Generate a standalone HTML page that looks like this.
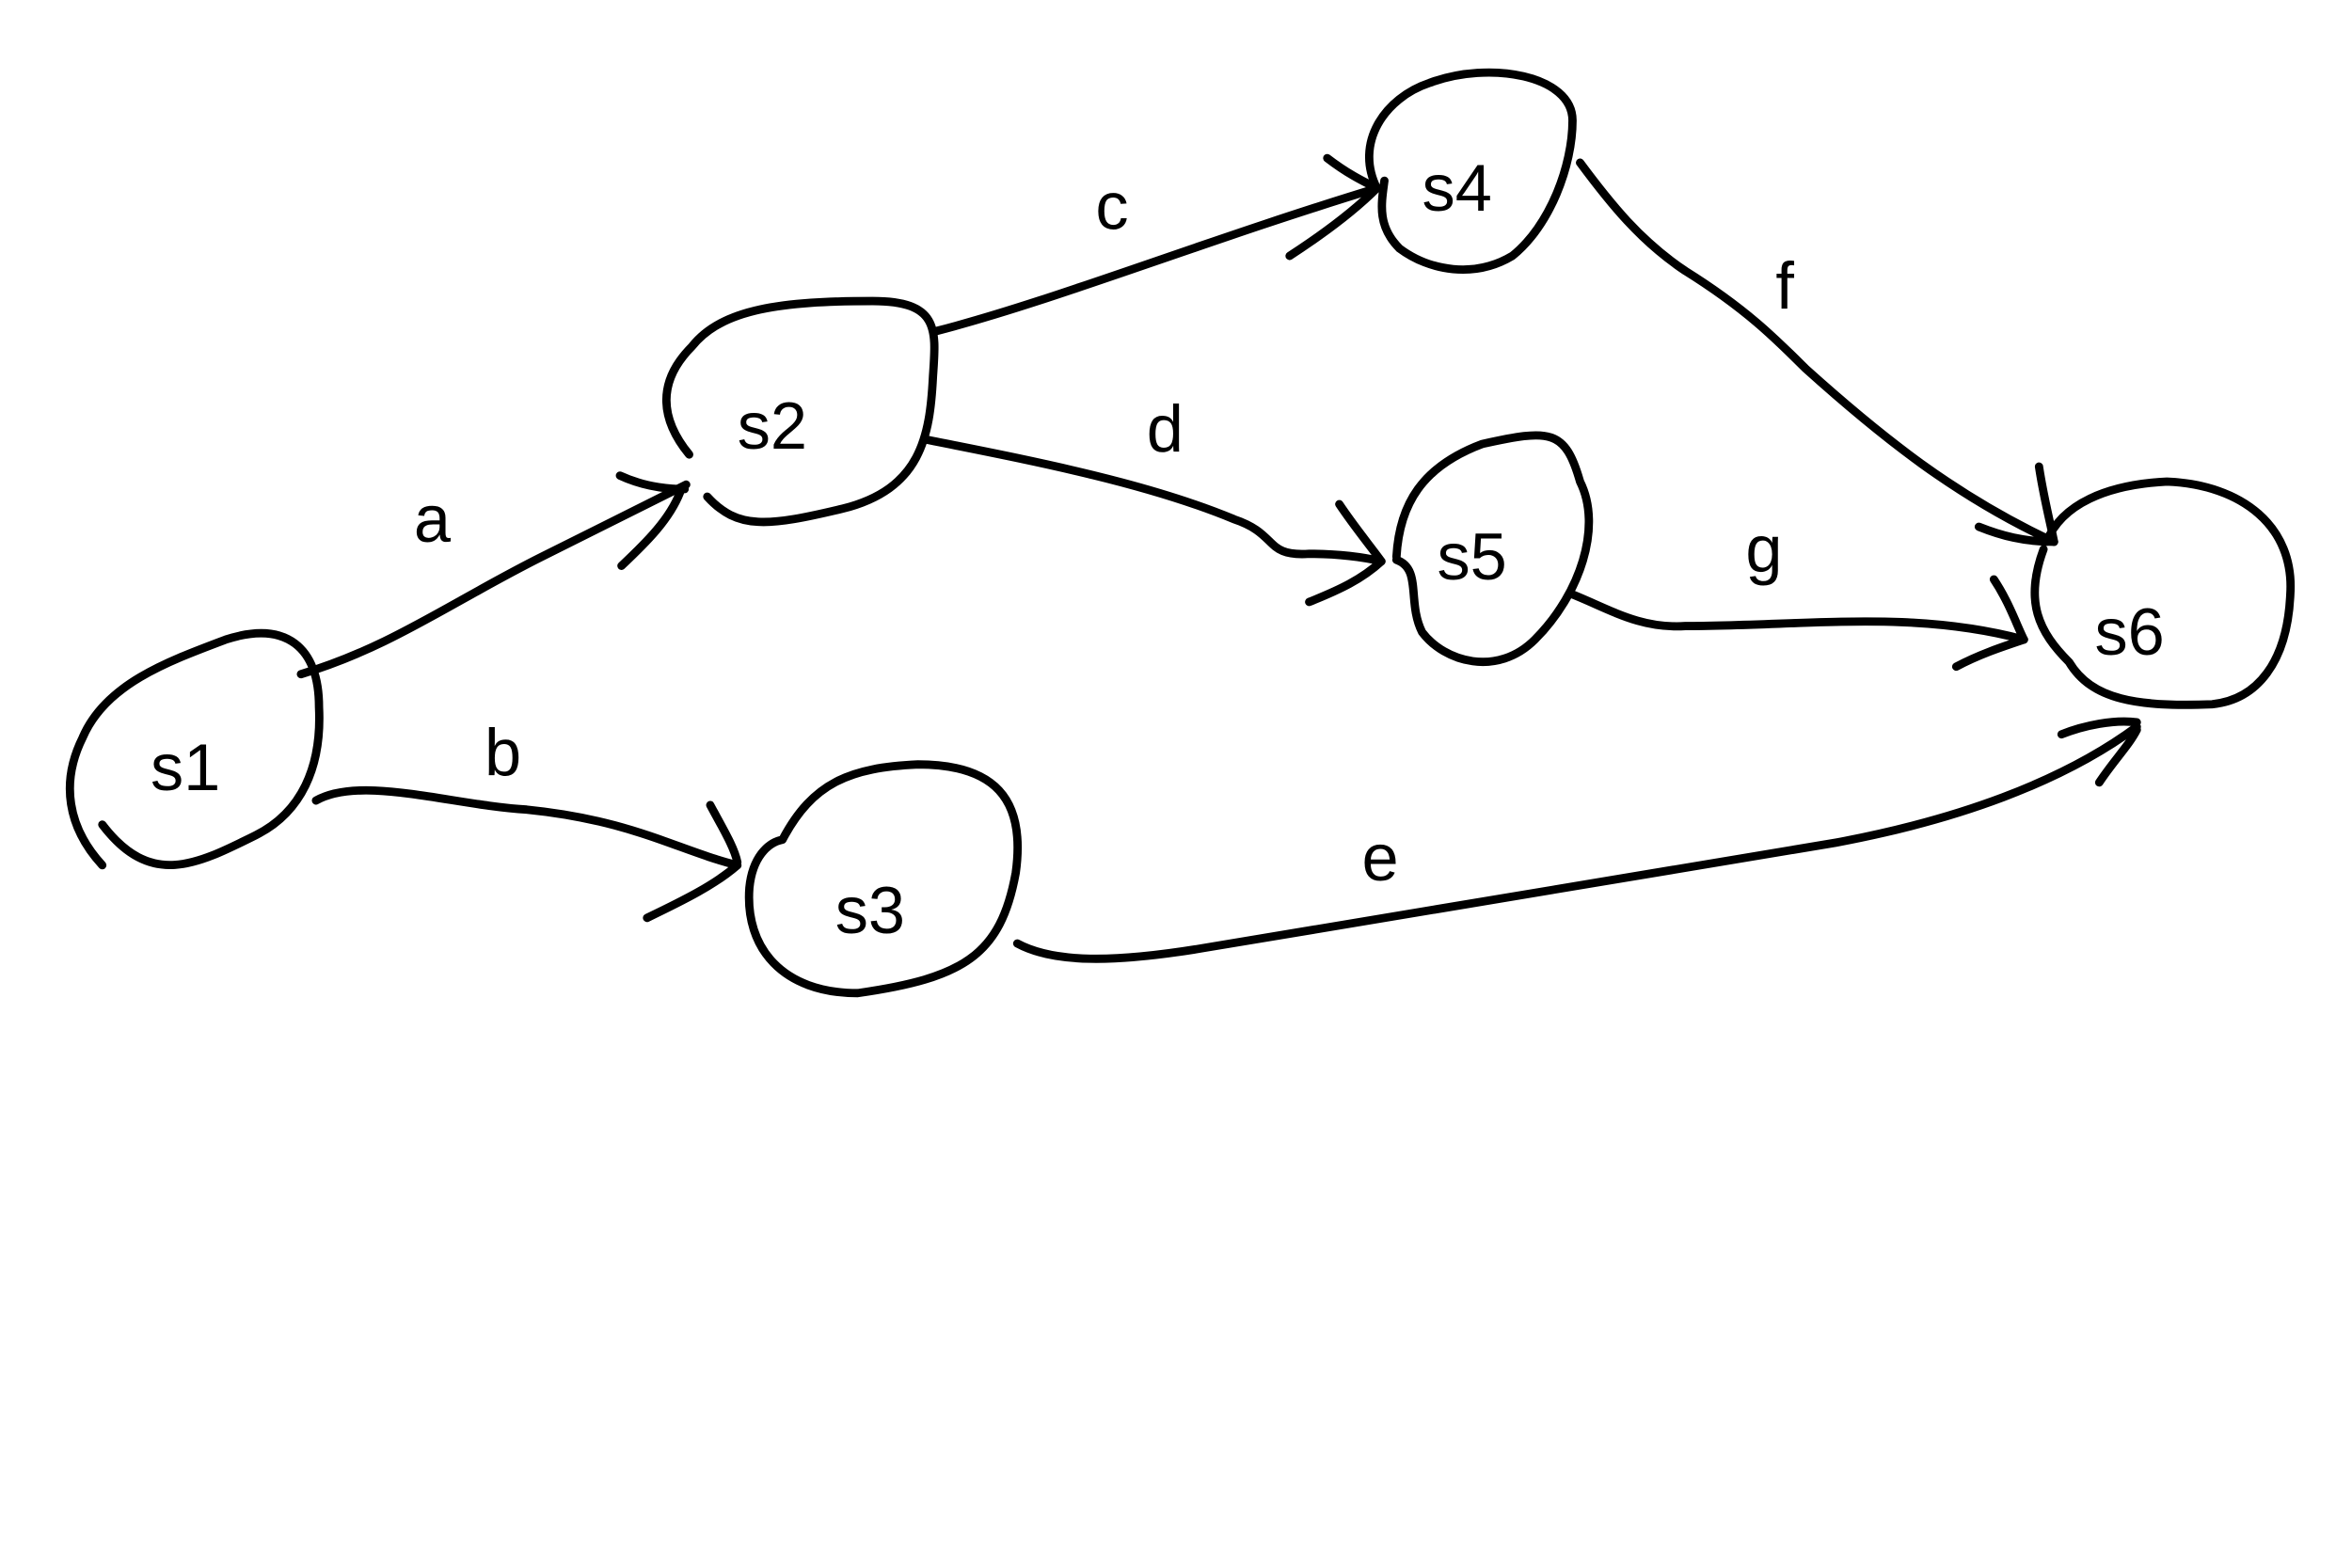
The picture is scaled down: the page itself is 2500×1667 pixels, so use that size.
<!DOCTYPE html>
<html><head><meta charset="utf-8"><style>
html,body{margin:0;padding:0;background:#fff;}
svg{display:block;}
text{font-family:"Liberation Sans",sans-serif;fill:#000;}
</style></head><body>
<svg width="2500" height="1667" viewBox="0 0 1563 1042" xmlns="http://www.w3.org/2000/svg">
<rect width="1563" height="1042" fill="#fff"/>
<g fill="none" stroke="#000" stroke-width="5.5" stroke-linecap="round" stroke-linejoin="round">
<path d="M68,575 C45,550 40,520 55,490 C70,455 110,440 150,425 C190,412 212,430 212,470 C214,510 200,540 170,555 C130,575 100,590 68,548"/>
<path d="M458,302 C440,280 435,255 460,230 C480,205 520,200 580,200 C625,200 622,220 620,250 C618,290 612,325 560,338 C510,350 490,352 470,330"/>
<path d="M520,558 C540,520 565,510 610,508 C660,508 682,530 675,580 C665,635 640,650 570,660 C520,660 495,630 498,590 C500,570 510,560 520,558"/>
<path d="M915,125 C900,95 920,65 950,55 C990,40 1045,50 1045,80 C1045,110 1030,150 1005,170 C980,185 950,180 930,165 C915,150 918,135 920,120"/>
<path d="M928,370 C930,335 945,310 985,295 C1030,285 1040,285 1050,320 C1065,350 1050,395 1020,425 C995,450 960,440 945,420 C935,400 945,378 928,372"/>
<path d="M1360,360 C1370,335 1400,322 1440,320 C1490,322 1525,350 1522,395 C1520,440 1500,465 1470,468 C1420,470 1390,465 1375,440 C1355,420 1345,400 1358,365"/>
<path d="M200,448 C260,430 300,400 360,370 C400,350 430,335 456,322"/>
<path d="M412,316 C425,322 440,325 455,325 M413,376 C430,360 445,345 452,327"/>
<path d="M210,532 C240,515 300,535 350,538 C420,545 450,565 490,575"/>
<path d="M472,535 C480,550 488,563 490,573 M430,610 C455,598 475,588 490,575"/>
<path d="M622,220 C700,200 800,160 915,125"/>
<path d="M882,105 C895,115 905,120 915,125 M857,170 C880,155 900,140 915,125"/>
<path d="M615,292 C680,305 760,320 820,345 C850,355 840,370 870,368 C890,368 905,370 918,373"/>
<path d="M890,335 C900,350 910,362 918,373 M870,400 C890,392 905,385 918,373"/>
<path d="M676,627 C700,640 740,640 800,630 C950,605 1100,580 1220,560 C1300,545 1370,520 1420,483"/>
<path d="M1370,488 C1385,482 1405,478 1420,480 M1395,520 C1405,505 1415,495 1420,485"/>
<path d="M1050,108 C1070,135 1090,160 1120,180 C1160,205 1180,225 1200,245 C1250,290 1300,330 1365,360"/>
<path d="M1315,350 C1330,356 1345,360 1365,360 M1355,310 C1358,330 1362,345 1365,360"/>
<path d="M1045,395 C1070,405 1090,418 1120,416 C1200,416 1270,405 1345,425"/>
<path d="M1325,385 C1335,400 1340,415 1345,425 M1300,443 C1315,435 1330,430 1345,425"/>
</g>
<g font-size="44">
<text x="100" y="525">s1</text>
<text x="490" y="298">s2</text>
<text x="555" y="620">s3</text>
<text x="945" y="140">s4</text>
<text x="955" y="385">s5</text>
<text x="1392" y="435">s6</text>
<text x="275" y="360">a</text>
<text x="322" y="515">b</text>
<text x="728" y="152">c</text>
<text x="762" y="300">d</text>
<text x="905" y="585">e</text>
<text x="1180" y="205">f</text>
<text x="1160" y="380">g</text>
</g>
</svg>
</body></html>
